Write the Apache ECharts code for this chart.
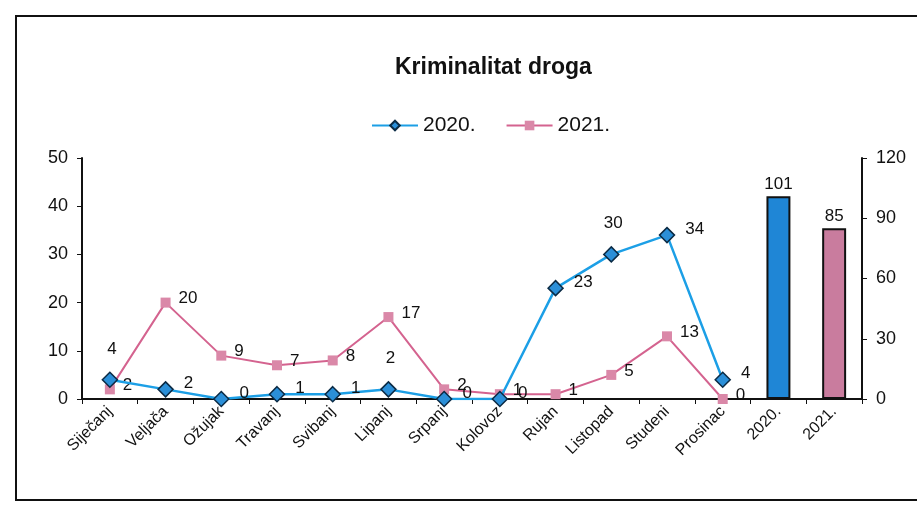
<!DOCTYPE html>
<html>
<head>
<meta charset="utf-8">
<script src="https://cdn.jsdelivr.net/npm/echarts@6/dist/echarts.min.js"></script>
<style>
  html, body { margin: 0; padding: 0; background: #fff; }
  #chart { width: 917px; height: 511px; }
</style>
</head>
<body>
<div id="chart"></div>
<script>
const categories = ['Siječanj', 'Veljača', 'Ožujak', 'Travanj', 'Svibanj', 'Lipanj', 'Srpanj',
  'Kolovoz', 'Rujan', 'Listopad', 'Studeni', 'Prosinac', '2020.', '2021.']
const months2020 = [4, 2, 0, 1, 1, 2, 0, 0, 23, 30, 34, 4]
const months2021 = [2, 20, 9, 7, 8, 17, 2, 1, 1, 5, 13, 0]
const totals = [101, 85]
const leftTicks = { min: 0, max: 50, interval: 10 }
const rightTicks = { min: 0, max: 120, interval: 30 }

const blue = '#1c9fe6'
const pink = '#d4638f'
const barColors = ['#1f86d6', '#c97c9e']

// label placement tweaks (style only)
const blueLabelPos = ['top', 'right', 'right', 'right', 'right', 'top', 'right', 'right', 'right', 'top', 'right', 'right']

const pad = n => new Array(n).fill(null)

const chart = echarts.init(document.getElementById('chart'))
chart.setOption({
  animation: false,
  textStyle: { fontFamily: 'Liberation Sans, Arial, sans-serif' },
  graphic: [{
    type: 'rect',
    shape: { x: 16, y: 16, width: 940, height: 484 },
    style: { fill: 'none', stroke: '#111', lineWidth: 2 }
  }],
  title: {
    text: 'Kriminalitat droga',
    left: 390, top: 51,
    textStyle: { fontSize: 23, fontWeight: 'bold', color: '#111' }
  },
  legend: {
    data: ['2020.', '2021.'],
    left: 366, top: 110,
    itemWidth: 46, itemHeight: 12, itemGap: 30,
    textStyle: { fontSize: 21, color: '#111' }
  },
  grid: { left: 82, right: 55, top: 158, bottom: 112 },
  xAxis: {
    type: 'category',
    data: categories,
    boundaryGap: true,
    axisLine: { lineStyle: { color: '#111', width: 2 } },
    axisTick: { show: true, alignWithLabel: false, length: 5, lineStyle: { color: '#111' } },
    axisLabel: { rotate: 45, fontSize: 16, color: '#111', margin: 10, interval: 0 }
  },
  yAxis: [{
    type: 'value',
    ...leftTicks,
    axisLine: { show: true, lineStyle: { color: '#111', width: 2 } },
    axisTick: { show: true, length: 5, lineStyle: { color: '#111' } },
    axisLabel: { fontSize: 18, color: '#111', margin: 14 },
    splitLine: { show: false }
  }, {
    type: 'value',
    ...rightTicks,
    position: 'right',
    axisLine: { show: true, lineStyle: { color: '#111', width: 2 } },
    axisTick: { show: true, length: 5, inside: false, lineStyle: { color: '#111' } },
    axisLabel: { fontSize: 18, color: '#111', margin: 14 },
    splitLine: { show: false }
  }],
  series: [{
    name: '2020.',
    type: 'line',
    data: months2020.map((v, i) => ({
      value: v,
      label: { position: blueLabelPos[i] }
    })).concat(pad(2)),
    symbol: 'diamond',
    symbolSize: 15,
    lineStyle: { color: blue, width: 2.5 },
    itemStyle: { color: '#2b8fd8', borderColor: '#0b2b45', borderWidth: 1.5 },
    label: { show: true, fontSize: 17, color: '#111', distance: 8, offset: [2, -6] },
    z: 3
  }, {
    name: '2021.',
    type: 'line',
    data: months2021.concat(pad(2)),
    symbol: 'rect',
    symbolSize: 10,
    lineStyle: { color: pink, width: 2 },
    itemStyle: { color: '#da88a8' },
    label: { show: true, position: 'right', fontSize: 17, color: '#111', distance: 8, offset: [0, -4] },
    z: 2
  }, {
    name: 'ukupno',
    type: 'bar',
    yAxisIndex: 1,
    barWidth: '43%',
    data: pad(12).concat(totals.map((v, i) => ({
      value: v,
      itemStyle: { color: barColors[i] }
    }))),
    itemStyle: { borderColor: '#111', borderWidth: 2 },
    label: { show: true, position: 'top', fontSize: 17, color: '#111', distance: 3 }
  }]
})
</script>
</body>
</html>
